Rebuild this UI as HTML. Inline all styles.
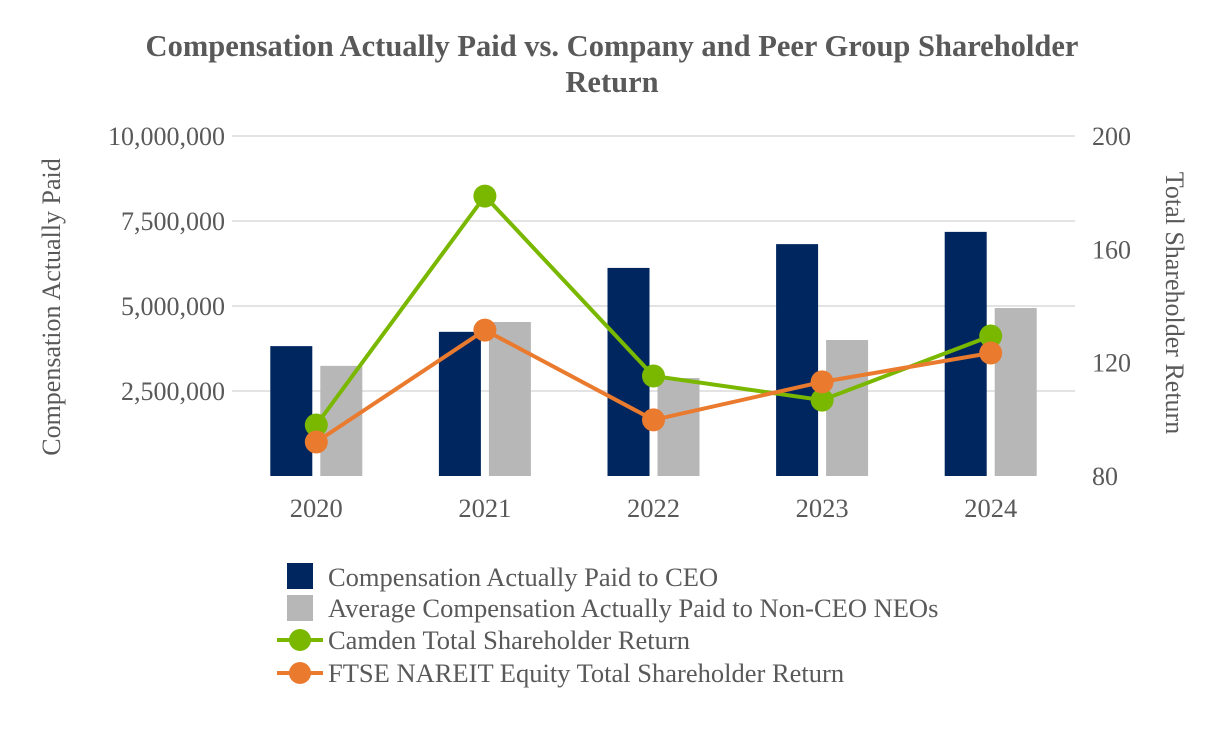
<!DOCTYPE html>
<html><head><meta charset="utf-8"><style>
body{margin:0;background:#fff;}
svg text{font-family:"Liberation Serif",serif;}
</style></head><body>
<svg width="1226" height="728" xmlns="http://www.w3.org/2000/svg">
<text x="612" y="56" text-anchor="middle" font-size="30.5" font-weight="bold" fill="#595959">Compensation Actually Paid vs. Company and Peer Group Shareholder</text>
<text x="612" y="92" text-anchor="middle" font-size="30.5" font-weight="bold" fill="#595959">Return</text>
<text transform="translate(60,307) rotate(-90)" text-anchor="middle" font-size="26" fill="#595959">Compensation Actually Paid</text>
<text transform="translate(1166,303) rotate(90)" text-anchor="middle" font-size="26" fill="#595959">Total Shareholder Return</text>
<g id="grid"></g><g id="bars"></g><g id="lines"></g><g id="axes"></g>
<g>
<rect x="287" y="563" width="26" height="26" fill="#002660"/>
<text x="328" y="586" font-size="26.5" fill="#595959">Compensation Actually Paid to CEO</text>
<rect x="287" y="595" width="26" height="26" fill="#b7b7b7"/>
<text x="328" y="617" font-size="26.5" fill="#595959">Average Compensation Actually Paid to Non-CEO NEOs</text>
<line x1="277" y1="640" x2="323" y2="640" stroke="#7ab800" stroke-width="4"/>
<circle cx="300" cy="640" r="11" fill="#7ab800"/>
<text x="328" y="649" font-size="26.5" fill="#595959">Camden Total Shareholder Return</text>
<line x1="277" y1="673" x2="323" y2="673" stroke="#e97a2e" stroke-width="4"/>
<circle cx="300" cy="673" r="11" fill="#e97a2e"/>
<text x="328" y="682" font-size="26.5" fill="#595959">FTSE NAREIT Equity Total Shareholder Return</text>
</g>
</svg>
<script>
const categories=["2020","2021","2022","2023","2024"];
const ceoPay=[3820000,4240000,6120000,6820000,7180000];
const neoPay=[3240000,4530000,2880000,4000000,4940000];
const camdenTSR=[98,178.8,115.3,106.8,129.4];
const ftseTSR=[92,131.5,99.8,113.2,123.4];
const leftTicks=[2500000,5000000,7500000,10000000];
const leftTickLabels=["2,500,000","5,000,000","7,500,000","10,000,000"];
const rightTicks=[80,120,160,200];
const NS="http://www.w3.org/2000/svg";
const X0=232,X1=1075,Y0=476,Y1=136;
const band=(X1-X0)/categories.length;
const xc=i=>X0+band*(i+0.5);
const yL=v=>Y0-(v/10000000)*(Y0-Y1);
const yR=v=>Y0-((v-80)/120)*(Y0-Y1);
function mk(t,a,p){const e=document.createElementNS(NS,t);for(const k in a)e.setAttribute(k,a[k]);p.appendChild(e);return e;}
const grid=document.getElementById('grid'),bars=document.getElementById('bars'),lines=document.getElementById('lines'),axes=document.getElementById('axes');
leftTicks.forEach((v,i)=>{
 const g=mk('line',{x1:X0,x2:X1,y1:yL(v),y2:yL(v),stroke:'#e3e3e3','stroke-width':2},grid);
 
 
 const t=mk('text',{x:225,y:yL(v)+9,'text-anchor':'end','font-size':26,fill:'#595959'},axes);
 t.textContent=leftTickLabels[i];
 
 
});
rightTicks.forEach(v=>{
 const t=mk('text',{x:1092,y:yR(v)+9,'font-size':26,fill:'#595959'},axes);
 t.textContent=v;
 
 
});
categories.forEach((c,i)=>{
 const t=mk('text',{x:xc(i),y:517,'text-anchor':'middle','font-size':26.5,fill:'#595959'},axes);
 t.textContent=c;
 
 
 const b1=mk('rect',{x:xc(i)-46,y:yL(ceoPay[i]),width:42,height:Y0-yL(ceoPay[i]),fill:'#002660'},bars);
 
 
 const b2=mk('rect',{x:xc(i)+4,y:yL(neoPay[i]),width:42,height:Y0-yL(neoPay[i]),fill:'#b7b7b7'},bars);
 
 
});
[[camdenTSR,'#7ab800','camden'],[ftseTSR,'#e97a2e','ftse']].forEach(([d,col,n])=>{
 const pl=mk('polyline',{points:d.map((v,i)=>xc(i)+','+yR(v)).join(' '),fill:'none',stroke:col,'stroke-width':4},lines);
 
 
 d.forEach((v,i)=>{
  const p=mk('circle',{cx:xc(i),cy:yR(v),r:11.5,fill:col},lines);
  
  
 });
});
</script>
</body></html>
